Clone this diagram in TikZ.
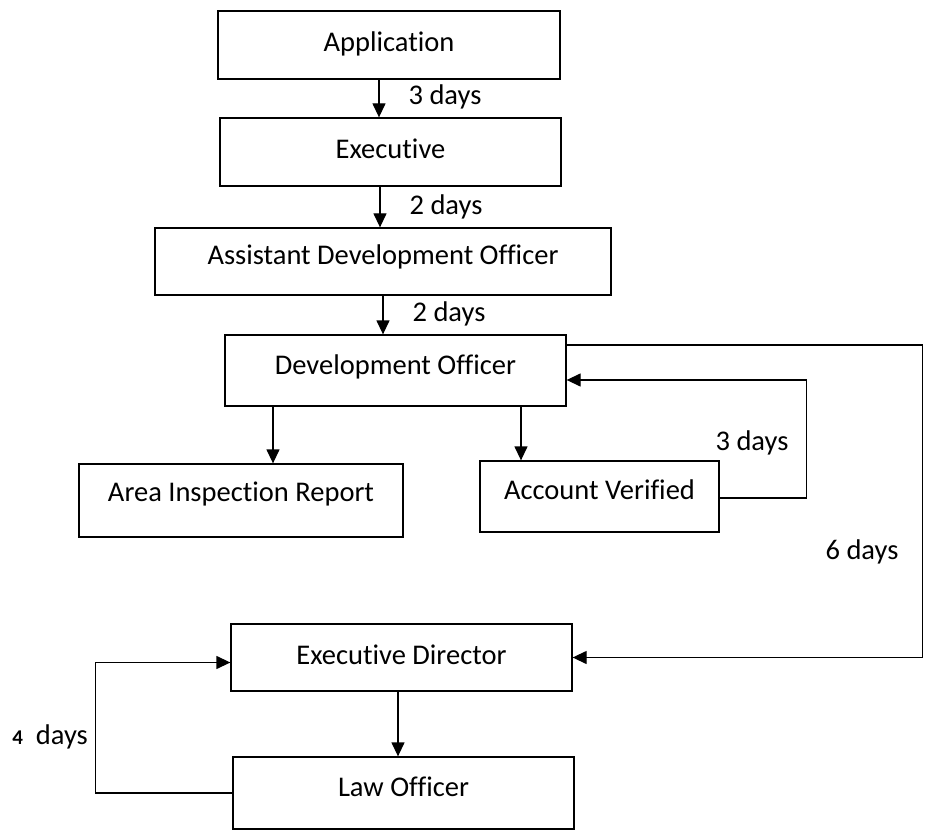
\documentclass[tikz,border=0pt]{standalone}
\usepackage{fontspec}
\setmainfont{Carlito}[Ligatures=NoCommon]
\usetikzlibrary{arrows.meta}
\begin{document}
\begin{tikzpicture}[x=1pt,y=-1pt,
  font=\fontsize{28.5}{33}\selectfont,
  box/.style={draw, line width=1.3pt, rectangle, inner sep=0pt, text height=21.3pt, text depth=7.3pt},
  hi/.style={text depth=#1},
  arr/.style={line width=1.3pt, -{Triangle[width=13pt,length=14pt]}},
  lbl/.style={inner sep=0pt}]
\useasboundingbox (0,0) rectangle (930,840);
\node[box, minimum width=342pt, minimum height=68pt] (app) at (389,45) {Application};
\node[box, minimum width=341pt, minimum height=68pt] (exe) at (390.5,152) {Executive};
\node[box, minimum width=456pt, minimum height=67pt, hi=15.9pt] (ado) at (383,261.5) {Assistant Development Officer};
\node[box, minimum width=341pt, minimum height=71pt, hi=13.9pt] (do) at (395.5,370.5) {Development Officer};
\node[box, minimum width=324pt, minimum height=73pt, hi=19.9pt] (air) at (241,500.5) {Area Inspection Report};
\node[box, minimum width=239pt, minimum height=71pt, hi=15.9pt] (av) at (599.5,496.5) {Account Verified};
\node[box, minimum width=341pt, minimum height=67pt] (ed) at (401.5,657.5) {Executive Director};
\node[box, minimum width=341pt, minimum height=72pt, hi=14.9pt] (lo) at (403.5,793) {Law Officer};

\draw[arr] ([xshift=-10pt]app.south) -- ([xshift=-10pt]app.south |- exe.north);
\node[lbl] (l1) at (445,97) {3 days};
\draw[arr] ([xshift=-10.5pt]exe.south) -- ([xshift=-10.5pt]exe.south |- ado.north);
\node[lbl] (l2) at (446,207) {2 days};
\draw[arr] (ado.south) -- (ado.south |- do.north);
\node[lbl] (l3) at (449,314) {2 days};

\draw[arr] ([xshift=32pt]air.north |- do.south) -- ([xshift=32pt]air.north);
\draw[arr] ([xshift=-78.5pt]av.north |- do.south) -- ([xshift=-78.5pt]av.north);

\draw[arr] ([yshift=-1.5pt]av.east) -- ++(87,0) |- ([yshift=-9.5pt]do.east);
\node[lbl] (l4) at (752,443) {3 days};

\draw[arr] ([yshift=25.5pt]do.east) -- ++(356,0) |- (ed.east);
\node[lbl] (l5) at (862,552) {6 days};

\draw[arr] ([xshift=-3.5pt]ed.south) -- ([xshift=-3.5pt]ed.south |- lo.north);
\draw[arr] (lo.west) -- ++(-137,0) |- ([yshift=-5pt]ed.west);
\node[lbl, anchor=east] (l6) at (88,737) {{\fontsize{21}{24}\selectfont\bfseries 4}\ \ days};
\end{tikzpicture}
\end{document}
